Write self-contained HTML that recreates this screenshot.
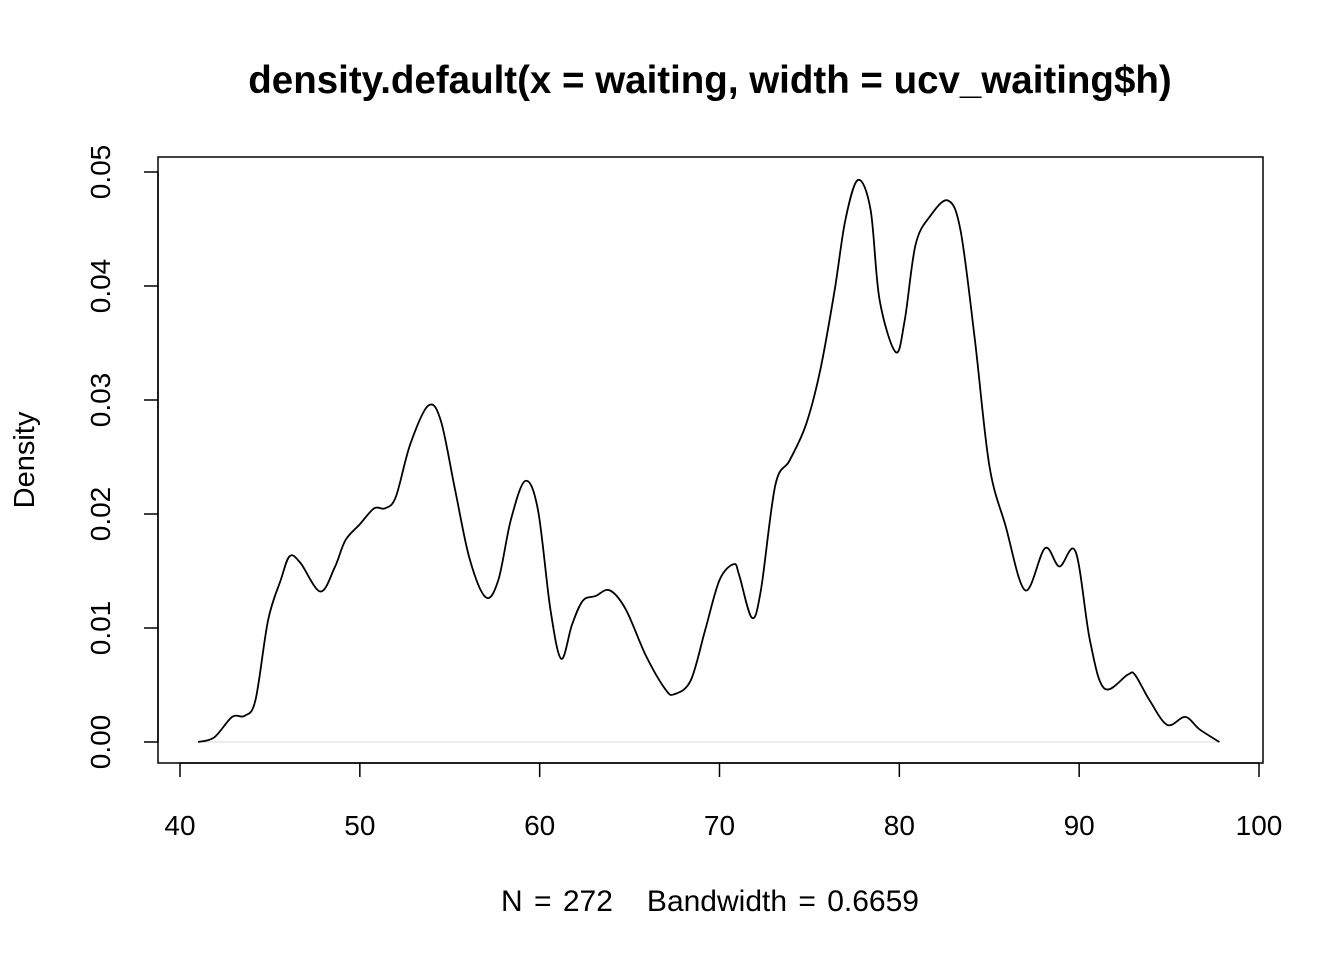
<!DOCTYPE html>
<html><head><meta charset="utf-8"><style>
body{margin:0;background:#fff}
text{font-family:"Liberation Sans",Arial,sans-serif;fill:#000;white-space:pre}
</style></head><body>
<svg id="chart" width="1344" height="960" xmlns="http://www.w3.org/2000/svg">
<text x="710" y="93" font-size="38.5" font-weight="bold" text-anchor="middle">density.default(x = waiting, width = ucv_waiting$h)</text>
<rect x="158" y="157" width="1105" height="606" fill="none" stroke="#000" stroke-width="1.5"/>
<text x="710" y="911" font-size="30" word-spacing="3" text-anchor="middle" xml:space="preserve">N = 272   Bandwidth = 0.6659</text>
<text transform="translate(34,460) rotate(-90)" font-size="29" text-anchor="middle">Density</text>
<g id="axes"></g>
<line id="zero" stroke="#e6e6e6" stroke-width="1.5"/>
<path id="curve" fill="none" stroke="#000" stroke-width="1.8"/>
</svg>
<script>
const xTicks=[40,50,60,70,80,90,100];
const yTicks=[0,0.01,0.02,0.03,0.04,0.05];
const yTickLabels=["0.00","0.01","0.02","0.03","0.04","0.05"];
const xVals=[41.0,41.9,42.9,43.6,44.2,44.9,45.6,46.1,46.7,47.8,48.6,49.2,50.0,50.8,51.4,52.0,52.8,53.8,54.5,55.3,56.1,57.0,57.7,58.4,59.2,59.9,60.6,61.2,61.8,62.4,63.1,63.9,64.8,65.9,67.0,67.5,68.4,69.2,70.0,70.8,71.1,71.8,72.3,73.1,73.9,74.8,75.6,76.4,77.0,77.7,78.4,78.9,79.8,80.3,80.9,81.7,82.7,83.4,84.2,85.0,85.9,87.0,88.1,88.9,89.8,90.6,91.4,92.7,93.1,93.9,94.9,95.9,96.7,97.8];
const yPix=[742,738,717,716,700,620,580,556,563,592,568,540,524,508,508,497,445,406,420,490,558,597,580,520,481,510,610,659,625,601,596,590,610,655,690,694,680,630,580,564,575,618,590,485,460,425,370,290,220,180,210,300,352,320,245,217,200,230,340,465,525,590,548,567,552,640,688,675,675,700,725,717,730,742];
const yVals=yPix.map(p=>+((742-p)/11400).toFixed(4));
const X=v=>180+(v-40)*(1079/60);
const Y=v=>742-v*11400;
const ns="http://www.w3.org/2000/svg";
const g=document.getElementById('axes');
function mk(t,a){const e=document.createElementNS(ns,t);for(const k in a)e.setAttribute(k,a[k]);g.appendChild(e);return e;}
let ax=mk('line',{x1:X(40),x2:X(100),y1:763,y2:763,stroke:'#000','stroke-width':1.5});


xTicks.forEach(t=>{let l=mk('line',{x1:X(t),x2:X(t),y1:763,y2:777,stroke:'#000','stroke-width':1.5});


let tx=mk('text',{x:X(t),y:835,'font-size':28,'text-anchor':'middle'});tx.textContent=t;

});
let ay=mk('line',{x1:158,x2:158,y1:Y(0),y2:Y(0.05),stroke:'#000','stroke-width':1.5});


yTicks.forEach((t,i)=>{let l=mk('line',{x1:144,x2:158,y1:Y(t),y2:Y(t),stroke:'#000','stroke-width':1.5});


let tx=mk('text',{transform:`translate(110,${Y(t)}) rotate(-90)`,'font-size':28,'text-anchor':'middle'});tx.textContent=yTickLabels[i];

});
const z=document.getElementById('zero');
z.setAttribute('x1',X(xVals[0]));z.setAttribute('x2',X(xVals[xVals.length-1]));z.setAttribute('y1',Y(0));z.setAttribute('y2',Y(0));
const P=xVals.map((x,i)=>[X(x),Y(yVals[i])]);
let d=`M${P[0][0]},${P[0][1]}`;
for(let i=0;i<P.length-1;i++){const p0=P[Math.max(0,i-1)],p1=P[i],p2=P[i+1],p3=P[Math.min(P.length-1,i+2)];
d+=` C${p1[0]+(p2[0]-p0[0])/6},${p1[1]+(p2[1]-p0[1])/6} ${p2[0]-(p3[0]-p1[0])/6},${p2[1]-(p3[1]-p1[1])/6} ${p2[0]},${p2[1]}`;}
document.getElementById('curve').setAttribute('d',d);
</script>
</body></html>
